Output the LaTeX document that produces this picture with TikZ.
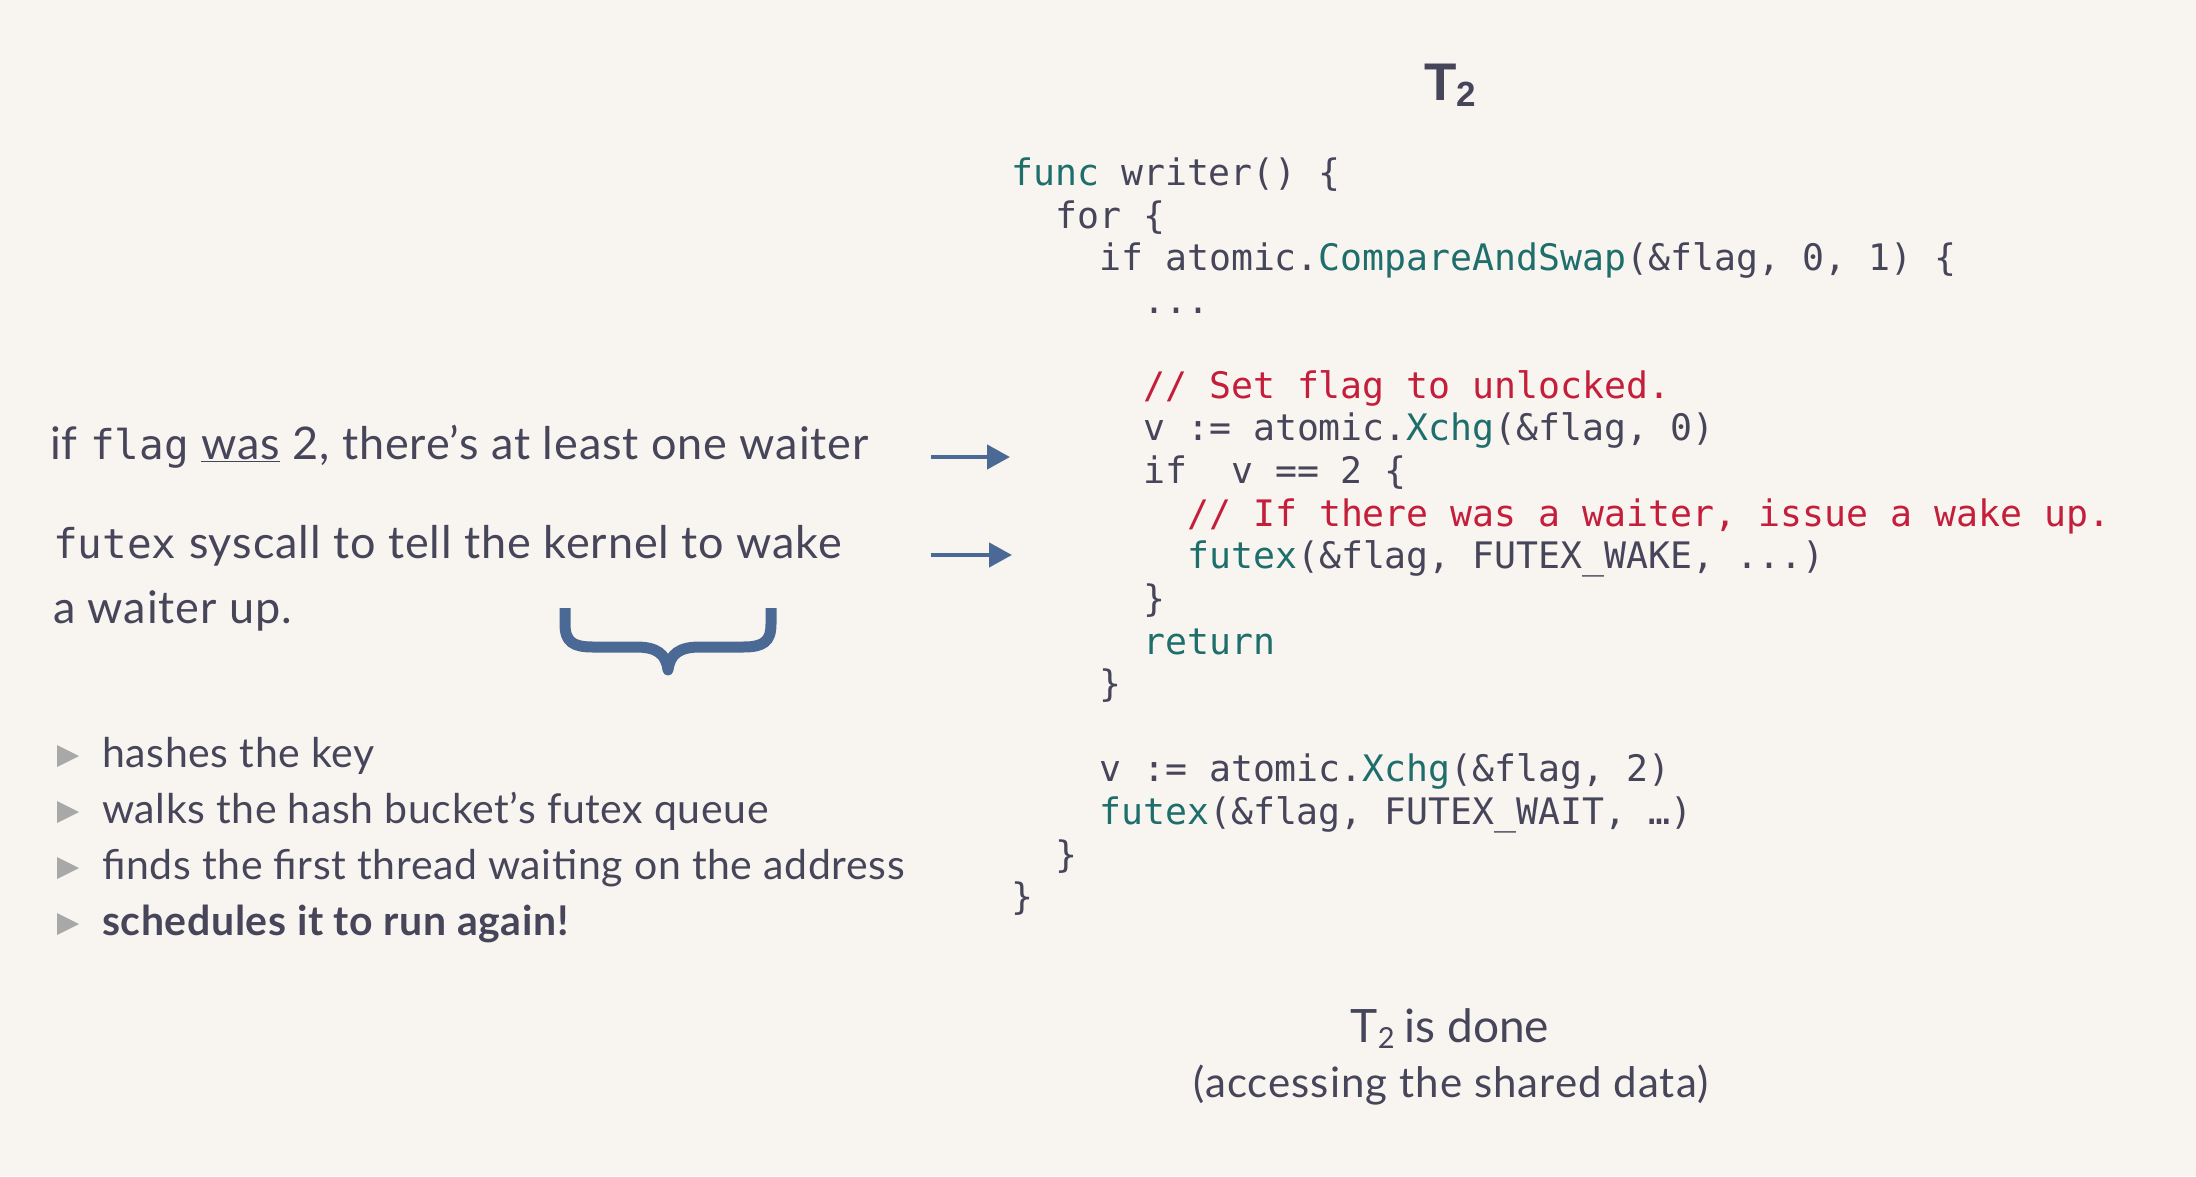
\documentclass[tikz,border=0pt]{standalone}
\usepackage{fontspec}
\setmainfont{Lato}
\newfontfamily\codefont{DejaVu Sans Mono}
\newfontfamily\headfont{Liberation Sans}
\newfontfamily\topfont[LetterSpace=2]{Lato}
\newfontfamily\listfont[LetterSpace=1.5]{Lato}
\usetikzlibrary{arrows.meta}
\definecolor{bgc}{HTML}{F8F5F0}
\definecolor{ink}{HTML}{46455A}
\definecolor{kw}{HTML}{1E6E6C}
\definecolor{cm}{HTML}{C41E3A}
\definecolor{arr}{HTML}{4A6A95}
\definecolor{bul}{HTML}{A8A8A8}
\newcommand{\kw}[1]{\textcolor{kw}{#1}}
\begin{document}
\begin{tikzpicture}[x=1pt,y=-1pt,
  code/.style={anchor=base west,inner sep=0pt,text=ink,font=\codefont\fontsize{36.5}{42}\selectfont},
  toptext/.style={anchor=base west,inner sep=0pt,text=ink,font=\topfont\fontsize{45}{50}\selectfont},
  sans/.style={anchor=base west,inner sep=0pt,text=ink,font=\listfont\fontsize{41}{45}\selectfont},
  arrowline/.style={draw=arr,line width=4.5pt,-{Triangle[length=23pt,width=24pt]}},
  bullet/.style={fill=bul},
  bracec/.style={draw=arr,line width=11pt,line join=round}]
\fill[bgc] (0,0) rectangle (2196,1176);
\useasboundingbox (0,0) rectangle (2196,1176);

% title
\node[anchor=base,inner sep=0pt,text=ink,font=\headfont\bfseries\fontsize{53}{53}\selectfont] (t2) at (1450,100) {T\raisebox{-6pt}{\fontsize{35}{35}\selectfont 2}};

% code
\node[code] (c1) at (1011,185) {\kw{func} writer() \{};
\node[code] (c2) at (1055,228) {for \{};
\node[code] (c3) at (1099,270) {if atomic.\kw{CompareAndSwap}(\&flag, 0, 1) \{};
\node[code] (c4) at (1143,313) {...};
\node[code] (c6) at (1143,398) {\textcolor{cm}{// Set flag to unlocked.}};
\node[code] (c7) at (1143,440) {v := atomic.\kw{Xchg}(\&flag, 0)};
\node[code] (c8) at (1143,483) {if\ \ v == 2 \{};
\node[code] (c9) at (1187,526) {\textcolor{cm}{// If there was a waiter, issue a wake up.}};
\node[code] (c10) at (1187,568) {\kw{futex}(\&flag, FUTEX\_WAKE, ...)};
\node[code] (c11) at (1143,611) {\}};
\node[code] (c12) at (1143,654) {\kw{return}};
\node[code] (c13) at (1099,696) {\}};
\node[code] (c15) at (1099,781) {v := atomic.\kw{Xchg}(\&flag, 2)};
\node[code] (c16) at (1099,824) {\kw{futex}(\&flag, FUTEX\_WAIT, …)};
\node[code] (c17) at (1055,867) {\}};
\node[code] (c18) at (1011,909) {\}};

% left explanations
\node[toptext] (l1) at (50,459) {if {\codefont\fontsize{41}{45}\selectfont flag} \underline{was} 2, there’s at least one waiter};
\node[toptext] (l2) at (53,558) {{\codefont\fontsize{41}{45}\selectfont futex} syscall to tell the kernel to wake};
\node[toptext] (l3) at (53,623) {a waiter up.};

\coordinate (a1s) at (931,457);
\coordinate (a1e) at (1010,457);
\coordinate (a2s) at (931,555);
\coordinate (a2e) at (1012,555);
\draw[arrowline] (a1s) -- (a1e);
\draw[arrowline] (a2s) -- (a2e);

% brace
\draw[bracec] (565,608) -- (565,624) .. controls (565,642) and (573,647) .. (593,647) -- (636,647) .. controls (657,647) and (666,654) .. (668,670)
  .. controls (670,654) and (679,647) .. (700,647) -- (743,647) .. controls (763,647) and (771,642) .. (771,624) -- (771,608);

% bullets
\node[sans] (b1) at (102,767) {hashes the key};
\node[sans] (b2) at (102,823) {walks the hash bucket’s futex queue};
\node[sans] (b3) at (102,879) {finds the first thread waiting on the address};
\node[sans] (b4) at (102,935) {\bfseries schedules it to run again!};
\foreach \y in {767,823,879,935}{
  \fill[bullet] (57,\y-22) -- (79,\y-11) -- (57,\y) -- cycle;
}

% bottom
\node[anchor=base,inner sep=0pt,text=ink,font=\fontsize{46}{50}\selectfont] (done) at (1450,1042) {T\raisebox{-6pt}{\fontsize{29}{29}\selectfont 2}\hspace{10pt}is done};
\node[anchor=base,inner sep=0pt,text=ink,font=\listfont\fontsize{42}{46}\selectfont\addfontfeatures{LetterSpace=2.5}] (acc) at (1451,1097) {(accessing the shared data)};
\end{tikzpicture}
\end{document}
